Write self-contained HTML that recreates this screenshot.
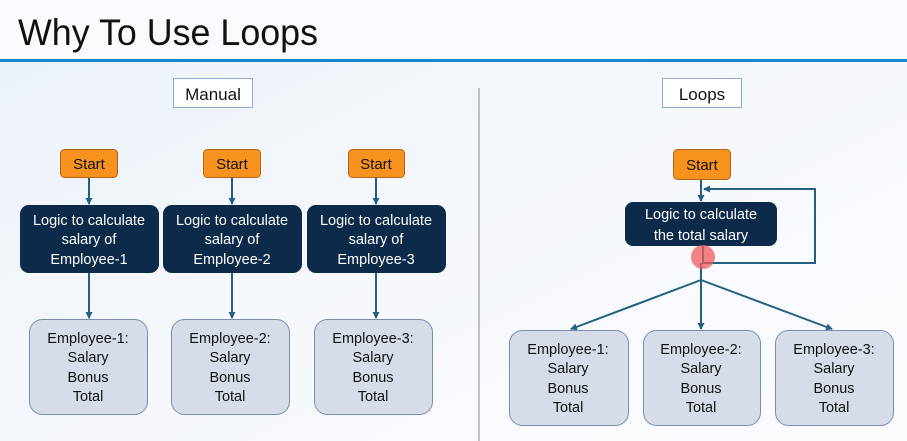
<!DOCTYPE html>
<html><head><meta charset="utf-8"><style>
html,body{margin:0;padding:0;width:907px;height:441px;overflow:hidden;background:#f4f8fc}
svg{display:block}
text{font-family:"Liberation Sans",sans-serif}
</style></head><body>
<svg width="907" height="441" viewBox="0 0 907 441" xmlns="http://www.w3.org/2000/svg">
<defs>
<marker id="a" markerWidth="8" markerHeight="8" refX="6" refY="4" orient="auto" markerUnits="userSpaceOnUse">
<path d="M0,0.5 L7,4 L0,7.5 Z" fill="#25607f"/></marker>
<linearGradient id="bg" x1="0" y1="0" x2="1" y2="1"><stop offset="0" stop-color="#eaf1f8"/><stop offset="0.5" stop-color="#f5f8fc"/><stop offset="1" stop-color="#fbfcfe"/></linearGradient>
</defs>
<rect width="907" height="441" fill="url(#bg)"/>
<rect x="0" y="0" width="907" height="59" fill="#f8fafd"/>
<text x="18" y="45" font-size="37" fill="#111" textLength="300" lengthAdjust="spacingAndGlyphs">Why To Use Loops</text>
<rect x="0" y="59" width="907" height="3" fill="#1a86d0"/>
<line x1="479" y1="88" x2="479" y2="441" stroke="#8a8a8a" stroke-width="1"/>
<rect x="173.5" y="78.5" width="79" height="29" fill="#fff" stroke="#8fa9d6"/>
<text x="213" y="100" font-size="17" text-anchor="middle" fill="#111">Manual</text>
<rect x="662.5" y="78.5" width="79" height="29" fill="#fff" stroke="#8fa9d6"/>
<text x="702" y="100" font-size="17" text-anchor="middle" fill="#111">Loops</text>
<g stroke="#25607f" stroke-width="2" fill="none">
<line x1="89" y1="177" x2="89" y2="204" marker-end="url(#a)"/>
<line x1="232" y1="177" x2="232" y2="204" marker-end="url(#a)"/>
<line x1="376" y1="177" x2="376" y2="204" marker-end="url(#a)"/>
<line x1="89" y1="273" x2="89" y2="318" marker-end="url(#a)"/>
<line x1="232" y1="273" x2="232" y2="318" marker-end="url(#a)"/>
<line x1="376" y1="273" x2="376" y2="318" marker-end="url(#a)"/>
<line x1="701" y1="180" x2="701" y2="201" marker-end="url(#a)"/>
<polyline points="703,246 703,263 815,263 815,189 704,189" marker-end="url(#a)"/>
<line x1="701" y1="263" x2="701" y2="280"/>
<line x1="701" y1="280" x2="571" y2="329" marker-end="url(#a)"/>
<line x1="701" y1="280" x2="701" y2="329" marker-end="url(#a)"/>
<line x1="701" y1="280" x2="832" y2="329" marker-end="url(#a)"/>
</g>
<g fill="#f7921e" stroke="#b0661a" stroke-width="1">
<rect x="60.5" y="149.5" width="57" height="28" rx="4"/>
<rect x="203.5" y="149.5" width="57" height="28" rx="4"/>
<rect x="348.5" y="149.5" width="56" height="28" rx="4"/>
<rect x="673.5" y="149.5" width="57" height="30" rx="4"/>
</g>
<g font-size="15" text-anchor="middle" fill="#111">
<text x="89" y="169">Start</text><text x="232" y="169">Start</text><text x="376" y="169">Start</text><text x="702" y="170">Start</text>
</g>
<g fill="#0d2a4a">
<rect x="20" y="205" width="139" height="68" rx="9"/>
<rect x="163" y="205" width="139" height="68" rx="9"/>
<rect x="307" y="205" width="139" height="68" rx="9"/>
<rect x="625" y="202" width="152" height="44" rx="8"/>
</g>
<g font-size="14.5" text-anchor="middle" fill="#fff">
<text x="89" y="225">Logic to calculate</text><text x="89" y="244">salary of</text><text x="89" y="264">Employee-1</text>
<text x="232" y="225">Logic to calculate</text><text x="232" y="244">salary of</text><text x="232" y="264">Employee-2</text>
<text x="376" y="225">Logic to calculate</text><text x="376" y="244">salary of</text><text x="376" y="264">Employee-3</text>
<text x="701" y="219">Logic to calculate</text><text x="701" y="240">the total salary</text>
</g>
<circle cx="703" cy="257" r="12" fill="#f05a5a" opacity="0.75"/>
<g fill="#d6dde9" stroke="#7a8db0" stroke-width="1">
<rect x="29.5" y="319.5" width="118" height="95" rx="13"/>
<rect x="171.5" y="319.5" width="118" height="95" rx="13"/>
<rect x="314.5" y="319.5" width="118" height="95" rx="13"/>
<rect x="509.5" y="330.5" width="119" height="95" rx="13"/>
<rect x="643.5" y="330.5" width="117" height="95" rx="13"/>
<rect x="775.5" y="330.5" width="118" height="95" rx="13"/>
</g>
<g font-size="14.5" text-anchor="middle" fill="#111">
<g transform="translate(88,0)"><text y="343">Employee-1:</text><text y="362">Salary</text><text y="382">Bonus</text><text y="401">Total</text></g>
<g transform="translate(230,0)"><text y="343">Employee-2:</text><text y="362">Salary</text><text y="382">Bonus</text><text y="401">Total</text></g>
<g transform="translate(373,0)"><text y="343">Employee-3:</text><text y="362">Salary</text><text y="382">Bonus</text><text y="401">Total</text></g>
<g transform="translate(568,0)"><text y="354">Employee-1:</text><text y="373">Salary</text><text y="393">Bonus</text><text y="412">Total</text></g>
<g transform="translate(701,0)"><text y="354">Employee-2:</text><text y="373">Salary</text><text y="393">Bonus</text><text y="412">Total</text></g>
<g transform="translate(834,0)"><text y="354">Employee-3:</text><text y="373">Salary</text><text y="393">Bonus</text><text y="412">Total</text></g>
</g>
</svg>
</body></html>
